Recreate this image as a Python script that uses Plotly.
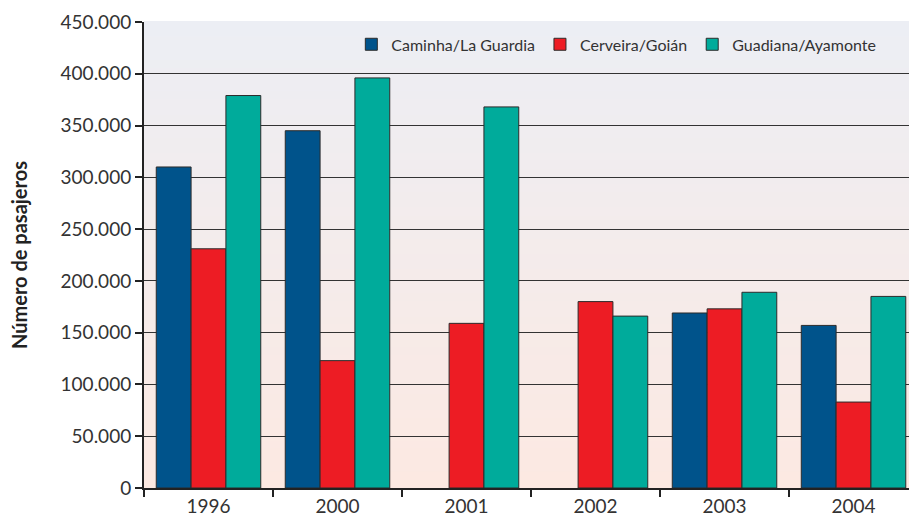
import plotly.graph_objects as go

years = ["1996", "2000", "2001", "2002", "2003", "2004"]
caminha = [310000, 345000, None, None, 169000, 157000]
cerveira = [231000, 123000, 159000, 180000, 173000, 83000]
guadiana = [379000, 396000, 368000, 166000, 189000, 185000]
series_names = ["Caminha/La Guardia", "Cerveira/Goián", "Guadiana/Ayamonte"]
colors = ["#00538b", "#ed1c24", "#00ab9b"]
y_ticks = [0, 50000, 100000, 150000, 200000, 250000, 300000, 350000, 400000, 450000]

FONT = "Lato"

fig = go.Figure()
for name, vals, col in zip(series_names, [caminha, cerveira, guadiana], colors):
    fig.add_trace(go.Bar(
        x=years, y=vals, name=name,
        marker=dict(color=col, line=dict(color="#2b2b2b", width=1)),
    ))

# vertical gradient background (style only)
top = (236, 238, 244)
bot = (252, 233, 226)
n = 60
shapes = []
for i in range(n):
    t = i / (n - 1)
    c = tuple(round(top[k] + (bot[k] - top[k]) * t) for k in range(3))
    shapes.append(dict(
        type="rect", xref="paper", yref="paper",
        x0=0, x1=1, y0=1 - (i + 1) / n, y1=1 - i / n + 0.002,
        fillcolor="rgb(%d,%d,%d)" % c, line=dict(width=0), layer="below",
    ))

fig.update_layout(
    width=909, height=520,
    margin=dict(l=144, r=0, t=22, b=32, autoexpand=False),
    paper_bgcolor="white",
    plot_bgcolor="white",
    separators=",.",
    shapes=shapes,
    barmode="group",
    bargap=0.19,
    bargroupgap=0,
    font=dict(family=FONT, color="#333333"),
    showlegend=True,
    legend=dict(
        orientation="h", x=0.271, xanchor="left", y=0.952, yanchor="middle",
        bgcolor="rgba(0,0,0,0)", font=dict(size=16, family=FONT, color="#333333"),
        traceorder="normal", itemwidth=30,
    ),
    xaxis=dict(
        range=[-0.5, 5.43], type="category",
        showline=True, linecolor="#222222", linewidth=2,
        ticks="outside", tickson="boundaries", ticklen=7, tickwidth=2, tickcolor="#222222",
        tickfont=dict(size=19, family=FONT, color="#333333"),
        showgrid=False,
    ),
    yaxis=dict(
        range=[0, 450000], tickvals=y_ticks, tickformat=",d",
        showline=True, linecolor="#222222", linewidth=2,
        ticks="outside", ticklen=7, tickwidth=1.5, tickcolor="#222222",
        tickfont=dict(size=19, family=FONT, color="#333333"),
        showgrid=True, gridcolor="#333333", gridwidth=1,
        zeroline=False,
        title=dict(text="<b>Número de pasajeros</b>", font=dict(size=20, family=FONT, color="#222222"), standoff=28),
    ),
)

fig.write_html("out.html")
